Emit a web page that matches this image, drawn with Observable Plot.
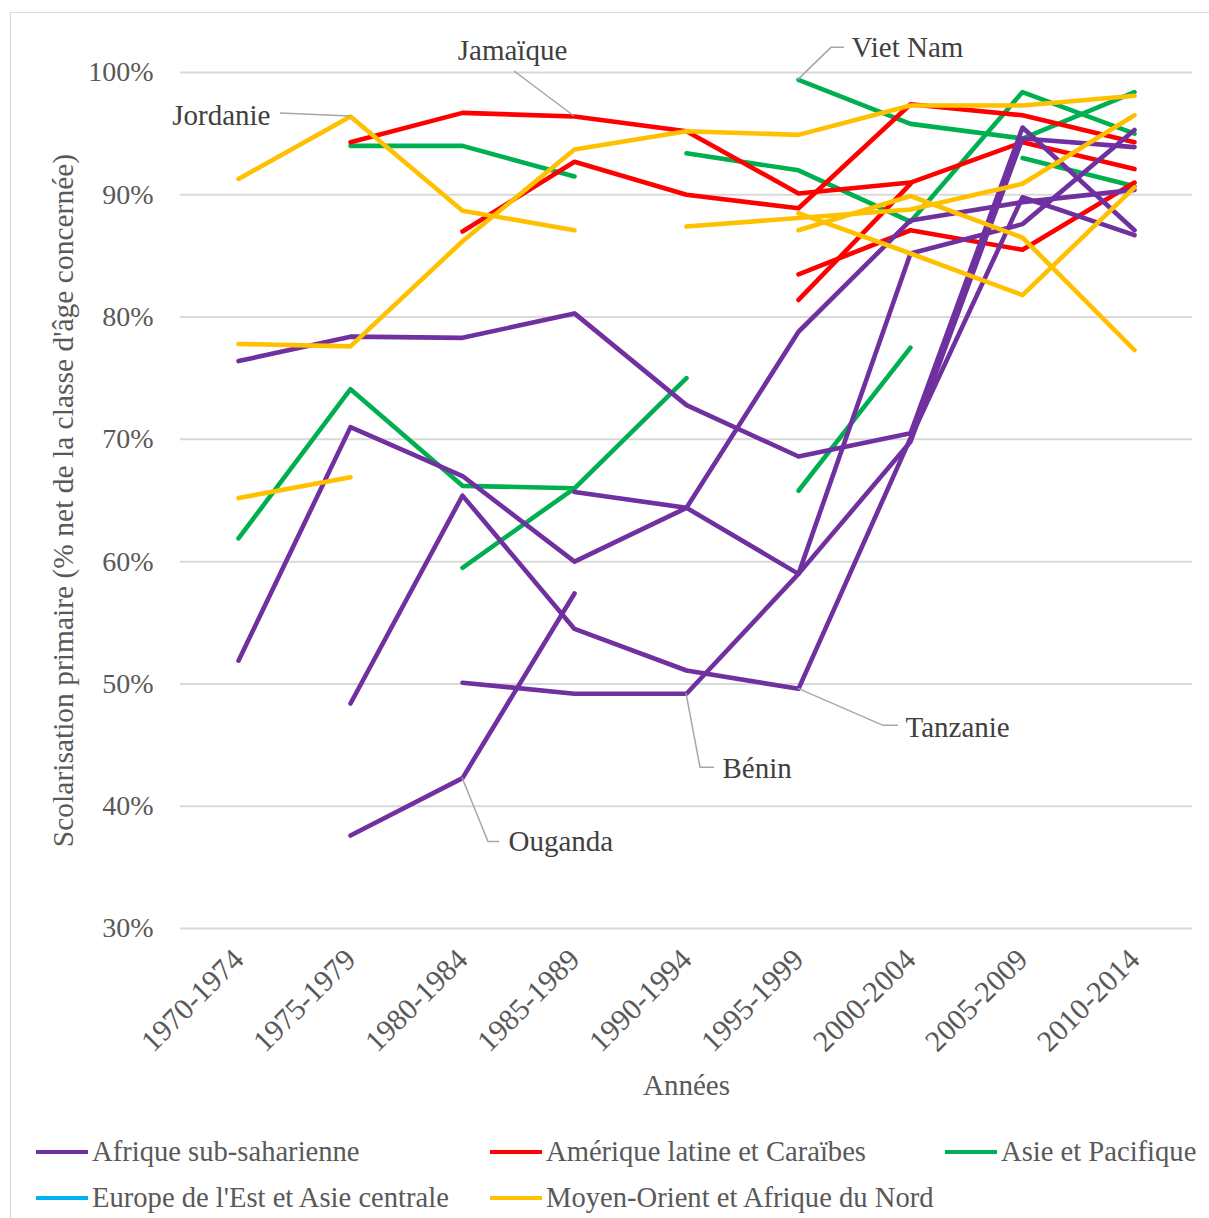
<!DOCTYPE html>
<html>
<head>
<meta charset="utf-8">
<script src="https://cdn.jsdelivr.net/npm/d3@7"></script>
<script src="https://cdn.jsdelivr.net/npm/@observablehq/plot@0.6"></script>
<style>
  body { margin: 0; background: #fff; font-family: "Liberation Serif", "Times New Roman", serif; }
  #wrap { position: relative; width: 1209px; height: 1218px; overflow: hidden; background: #fff; }
  #frame { position: absolute; left: 10px; top: 12px; width: 1300px; height: 1400px; border: 1.5px solid #d9d9d9; box-sizing: border-box; }
  #chart { position: absolute; left: 0; top: 0; }
  .leg { position: absolute; display: flex; align-items: center; font-size: 28.6px; color: #595959; white-space: nowrap; line-height: 1; }
  .leg .sw { width: 52px; height: 4px; margin-right: 4px; }
</style>
</head>
<body>
<div id="wrap"><div id="frame"></div><div id="chart"></div><div id="legend"></div></div>
<script>
// ---------- data ----------
const periods = ["1970-1974","1975-1979","1980-1984","1985-1989","1990-1994","1995-1999","2000-2004","2005-2009","2010-2014"];
const regions = ["Afrique sub-saharienne","Amérique latine et Caraïbes","Asie et Pacifique","Europe de l'Est et Asie centrale","Moyen-Orient et Afrique du Nord"];
const regionColors = ["#7030a0","#ff0000","#00b050","#00b0f0","#ffc000"];
const yTicks = [30,40,50,60,70,80,90,100];
const yTitle = "Scolarisation primaire (% net de la classe d'âge concernée)";
const xTitle = "Années";

// Afrique sub-saharienne
const afr1     = [76.4, 78.4, 78.3, 80.3, 72.8, 68.6, 70.5, 95.5, 87.1];
const afr2     = [51.9, 71.0, 67.0, 60.0, 64.4, 78.8, 87.9, 89.4, 90.4];
const tanzanie = [null, 48.4, 65.4, 54.5, 51.1, 49.6, 70.1, 89.8, 86.7];
const benin    = [null, null, 50.1, 49.2, 49.2, 59.0, 85.2, 87.6, 95.3];
const ouganda  = [null, 37.6, 42.3, 57.4, null, null, null, null, null];
const afr6     = [null, null, null, 65.7, 64.4, 59.0, 69.8, 94.6, 93.9];

// Amérique latine et Caraïbes
const jamaique = [null, 94.3, 96.7, 96.4, 95.2, 90.1, 91.0, 94.3, 92.1];
const ame2     = [null, null, 87.0, 92.7, 90.0, 88.9, 97.4, 96.5, 94.3];
const ame3     = [null, null, null, null, null, 83.5, 87.1, 85.5, 91.0];
const ame4     = [null, null, null, null, null, 81.4, 90.9, null, null];

// Asie et Pacifique
const asie1    = [null, 94.0, 94.0, 91.5, null, null, null, null, null];
const asie2    = [61.9, 74.1, 66.2, 66.0, null, null, null, null, null];
const asie3    = [null, null, 59.5, 66.0, 75.0, null, null, null, null];
const asie4    = [null, null, null, null, 93.4, 92.0, 87.8, 98.4, 95.0];
const vietNam  = [null, null, null, null, null, 99.4, 95.8, 94.6, 98.4];
const asie6    = [null, null, null, null, null, 65.8, 77.5, null, null];
const asie7    = [null, null, null, null, null, null, null, 93.0, 90.7];

// Moyen-Orient et Afrique du Nord
const jordanie = [91.3, 96.4, 88.7, 87.1, null, null, null, null, null];
const mo2      = [77.8, 77.6, 86.2, 93.7, 95.2, 94.9, 97.3, 97.3, 98.1];
const mo3      = [65.2, 66.9, null, null, null, null, null, null, null];
const mo4      = [null, null, null, null, 87.4, 88.1, 88.8, 90.9, 96.5];
const mo5      = [null, null, null, null, null, 87.1, 89.9, 86.5, 77.3];
const mo6      = [null, null, null, null, null, 88.5, 85.2, 81.8, 90.6];

// drawing order (later on top)
const seriesList = [
  ["Asie 1", regions[2], asie1], ["Asie 2", regions[2], asie2], ["Asie 3", regions[2], asie3],
  ["Asie 4", regions[2], asie4], ["Viet Nam", regions[2], vietNam], ["Asie 6", regions[2], asie6], ["Asie 7", regions[2], asie7],
  ["Jamaïque", regions[1], jamaique], ["Amérique 2", regions[1], ame2], ["Amérique 3", regions[1], ame3], ["Amérique 4", regions[1], ame4],
  ["Afrique 1", regions[0], afr1], ["Afrique 2", regions[0], afr2], ["Tanzanie", regions[0], tanzanie],
  ["Bénin", regions[0], benin], ["Ouganda", regions[0], ouganda], ["Afrique 6", regions[0], afr6],
  ["Jordanie", regions[4], jordanie], ["MO 2", regions[4], mo2], ["MO 3", regions[4], mo3],
  ["MO 4", regions[4], mo4], ["MO 5", regions[4], mo5], ["MO 6", regions[4], mo6]
];
const rows = seriesList.flatMap(([name, region, vals]) =>
  vals.map((v, i) => ({series: name, region, period: periods[i], value: v})).filter(d => d.value != null));

// callouts (values taken from the series)
const callouts = [
  {label: "Jordanie", period: periods[1], value: jordanie[1]},
  {label: "Jamaïque", period: periods[3], value: jamaique[3]},
  {label: "Viet Nam", period: periods[5], value: vietNam[5]},
  {label: "Tanzanie", period: periods[5], value: tanzanie[5]},
  {label: "Bénin",    period: periods[4], value: benin[4]},
  {label: "Ouganda",  period: periods[2], value: ouganda[2]}
];
// callout layout (pixel offsets)
const calloutLayout = {
  "Jordanie": {anchor: "end",    dx: -80, dy: -1,  leader: [[0,0],[-70,-3]]},
  "Jamaïque": {anchor: "middle", dx: -62, dy: -66, leader: [[0,0],[-60,-45]]},
  "Viet Nam": {anchor: "start",  dx: 53,  dy: -32, leader: [[0,0],[33,-32],[46,-32]]},
  "Tanzanie": {anchor: "start",  dx: 107, dy: 39,  leader: [[0,0],[85,37],[100,37]]},
  "Bénin":    {anchor: "start",  dx: 36,  dy: 75,  leader: [[0,0],[14,74],[28,74]]},
  "Ouganda":  {anchor: "start",  dx: 46,  dy: 64,  leader: [[0,0],[26,64],[37,64]]}
};

// ---------- chart ----------
const plot = Plot.plot({
  width: 1209,
  height: 1110,
  marginLeft: 180,
  marginRight: 17,
  marginTop: 72,
  marginBottom: 182,
  style: {fontFamily: "'Liberation Serif', 'Times New Roman', serif", fontSize: "28px", color: "#595959", background: "transparent", overflow: "visible"},
  x: {type: "point", domain: periods, padding: 0.5},
  y: {domain: [30, 100]},
  color: {domain: regions, range: regionColors},
  marks: [
    Plot.gridY(yTicks, {stroke: "#d9d9d9", strokeWidth: 2, strokeOpacity: 1}),
    Plot.axisY(yTicks, {tickSize: 0, tickPadding: 27, tickFormat: d => d + "%", label: null}),
    Plot.axisX({tickSize: 0, tickRotate: -45, tickPadding: 26, dx: 0, fontSize: 30, label: null}),
    Plot.text([yTitle], {frameAnchor: "left", textAnchor: "middle", rotate: -90, dx: -117, fontSize: 29.5, fill: "#595959", lineAnchor: "middle"}),
    Plot.text([xTitle], {frameAnchor: "bottom", textAnchor: "middle", dy: 157, fontSize: 29, fill: "#595959", lineAnchor: "middle"}),
    Plot.line(rows, {x: "period", y: "value", z: "series", stroke: "region", strokeWidth: 4.6,
      strokeLinecap: "round", strokeLinejoin: "round"}),
    ...callouts.map(c => Plot.text([c], {x: "period", y: "value", text: "label",
      textAnchor: calloutLayout[c.label].anchor, dx: calloutLayout[c.label].dx, dy: calloutLayout[c.label].dy,
      fill: "#404040", fontSize: 29, lineAnchor: "middle"}))
  ]
});

// leader lines drawn from the scales
const sx = plot.scale("x"), sy = plot.scale("y");
const svg = d3.select(plot);
const leaderG = svg.append("g");
callouts.forEach(c => {
  const px = sx.apply(c.period), py = sy.apply(c.value);
  const pts = calloutLayout[c.label].leader.map(([a, b]) => [px + a, py + b]);
  leaderG.append("path").attr("d", d3.line()(pts)).attr("fill", "none")
    .attr("stroke", "#a6a6a6").attr("stroke-width", 1.5);
});
document.getElementById("chart").appendChild(plot);

// ---------- legend ----------
const legendPos = [[36, 1152], [490, 1152], [945, 1152], [36, 1198], [490, 1198]];
const legend = document.getElementById("legend");
regions.forEach((r, i) => {
  const item = document.createElement("div");
  item.className = "leg";
  item.style.left = legendPos[i][0] + "px";
  item.style.top = (legendPos[i][1] - 16) + "px";
  item.style.height = "32px";
  const sw = document.createElement("span");
  sw.className = "sw";
  sw.style.background = regionColors[i];
  const tx = document.createElement("span");
  tx.textContent = r;
  item.appendChild(sw);
  item.appendChild(tx);
  legend.appendChild(item);
});
</script>
</body>
</html>
